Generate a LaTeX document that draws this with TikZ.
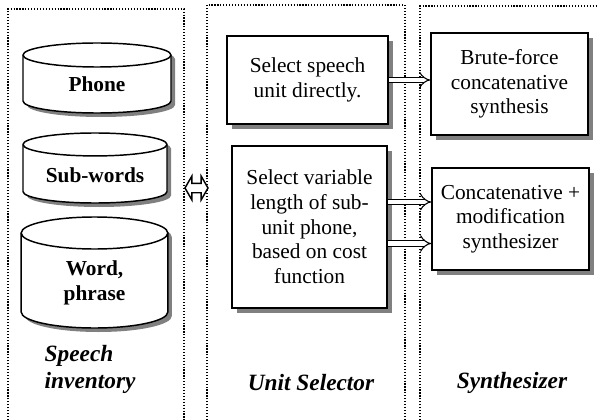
\documentclass[tikz,border=0pt]{standalone}
\usepackage{fontspec}
\setmainfont{Liberation Serif}
\usetikzlibrary{positioning,shapes.arrows,shadows,arrows.meta,calc}

\begin{document}
\begin{tikzpicture}
  [
    x=0.75pt, y=-0.75pt,
    every node/.style={font=\fontsize{16}{18.5}\selectfont},
    panel/.style={draw, line width=0.9pt, dash pattern=on 0.9pt off 1.3pt},
    drumbody/.style={draw, fill=white, line width=1.1pt,
      drop shadow={shadow xshift=3pt, shadow yshift=-3pt, fill=black!50, opacity=1}},
    drumtext/.style={anchor=base, align=center, font=\fontsize{16}{18.5}\selectfont\bfseries},
    unitbox/.style={rectangle, draw, fill=white, line width=1.3pt, align=center,
      drop shadow={shadow xshift=3.75pt, shadow yshift=-3.75pt, fill=black!50, opacity=1}},
    link/.style={double arrow, draw, fill=white, line width=1.1pt, inner xsep=0pt,
      inner ysep=3pt, minimum height=17.25pt, double arrow head extend=5.25pt,
      double arrow tip angle=120},
    feed/.style={double, double distance=3.6pt, line width=0.8pt,
      -{Implies[length=7pt, width=12pt]}},
    caption/.style={font=\fontsize{17.5}{20}\selectfont\bfseries\itshape, align=left}
  ]

  \useasboundingbox (0,0) rectangle (598,420);

  % three columns
  \draw[panel] (8,420) |- (184,9) -- (184,420);
  \draw[panel] (207,420) |- (405,5) -- (405,420);
  \draw[panel] (420,420) |- (598,6);

  % speech inventory (drums)
  \foreach \cx/\ytop/\ybot/\rx/\ry in {97/43/113/55.5/9, 95/133/203/54/8.6, 94.5/217/328/55/12}
  {
    \path[drumbody] ($(\cx,\ytop)+(-\rx pt,-\ry pt)$) -- ($(\cx,\ybot)+(-\rx pt,\ry pt)$)
      arc[start angle=180, end angle=360, x radius=\rx pt, y radius=\ry pt]
      -- ($(\cx,\ytop)+(\rx pt,-\ry pt)$)
      arc[start angle=0, end angle=180, x radius=\rx pt, y radius=\ry pt] -- cycle;
    \draw[line width=1.1pt] ($(\cx,\ytop)+(-\rx pt,-\ry pt)$)
      arc[start angle=180, end angle=360, x radius=\rx pt, y radius=\ry pt];
  }
  \node[drumtext] (phone) at (97,92) {Phone};
  \node[drumtext] (subword) at (95,182) {Sub-words};
  \node[drumtext] (word) at (94.5,300) {Word,\\ phrase};
  \node[caption, anchor=base west] (inventory) at (40,388) {Speech\\ inventory};

  \node[link] (link) at (196.5,188) {};

  % unit selector
  \node[unitbox, minimum width=120.75pt, minimum height=66pt] (direct) at (307.5,80)
    {Select speech\\ unit directly.};
  \node[unitbox, minimum width=116.25pt, minimum height=121.5pt] (variable) at (309.5,227)
    {Select variable\\ length of sub-\\ unit phone,\\ based on cost\\ function};
  \node[caption] (selector) at (311,383) {Unit Selector};

  % synthesizer
  \node[unitbox, minimum width=117.75pt, minimum height=76.5pt] (brute) at (509.5,84)
    {Brute-force\\ concatenative\\ synthesis};
  \node[unitbox, minimum width=117.75pt, minimum height=76.5pt] (modif) at (510.5,219)
    {Concatenative +\\ modification\\ synthesizer};
  \node[caption] (synth) at (512,383) {Synthesizer};

  \draw[feed] (direct.east) -- (brute.west |- direct.east);
  \draw[feed] (variable.east |- 0,202) -- (modif.west |- 0,202);
  \draw[feed] (variable.east |- 0,243.5) -- (modif.west |- 0,243.5);
\end{tikzpicture}
\end{document}
